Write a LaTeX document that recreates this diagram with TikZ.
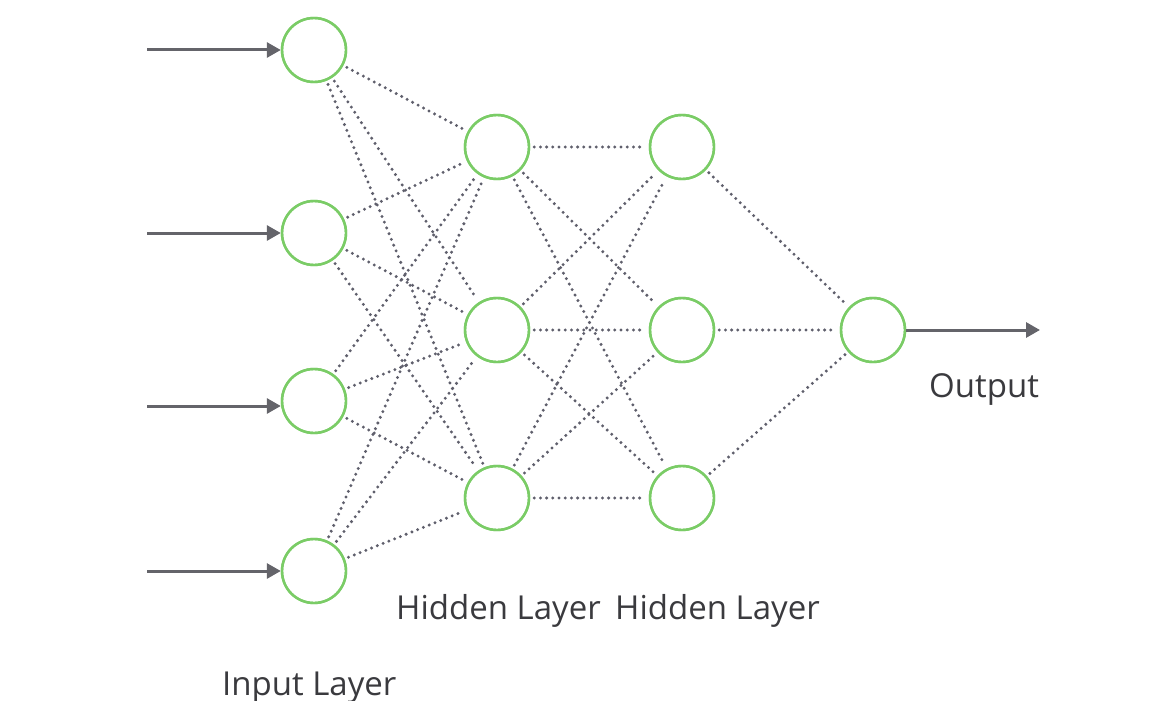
\documentclass[tikz,border=0pt]{standalone}
\usepackage{fontspec}
\setmainfont{Open Sans}
\usetikzlibrary{arrows.meta}
\definecolor{nodegreen}{RGB}{122,204,102}
\definecolor{linkgray}{RGB}{95,95,108}
\definecolor{arrowgray}{RGB}{100,100,106}
\definecolor{labelgray}{RGB}{58,58,62}
\tikzset{
  neuron/.style={circle,draw=nodegreen,line width=2.4pt,minimum size=64pt,inner sep=0pt,fill=white},
  link/.style={draw=linkgray,line width=3.3pt,line cap=round,dash pattern=on 0pt off 6.2pt,shorten <=4pt,shorten >=4pt},
  feed/.style={draw=arrowgray,line width=3pt,-{Triangle[length=14pt,width=15pt]}},
  caption/.style={anchor=base west,inner sep=0pt,text=labelgray,font=\fontsize{33}{36}\selectfont}
}
\begin{document}
\begin{tikzpicture}[x=1pt,y=-1pt]
\useasboundingbox (0,0) rectangle (1165,701);

% input layer
\node[neuron] (i1) at (314,50) {};
\node[neuron] (i2) at (314,233) {};
\node[neuron] (i3) at (314,401) {};
\node[neuron] (i4) at (314,571) {};
% first hidden layer
\node[neuron] (a1) at (497,147) {};
\node[neuron] (a2) at (497,330) {};
\node[neuron] (a3) at (497,498) {};
% second hidden layer
\node[neuron] (b1) at (682,147) {};
\node[neuron] (b2) at (682,330) {};
\node[neuron] (b3) at (682,498) {};
% output neuron
\node[neuron] (o) at (873,330) {};

% weighted connections
\foreach \s in {i1,i2,i3,i4}
  \foreach \t in {a1,a2,a3}
    \path[link] (\s) -- (\t);
\foreach \s in {a1,a2,a3}
  \foreach \t in {b1,b2,b3}
    \path[link] (\s) -- (\t);
\foreach \s in {b1,b2,b3}
  \path[link] (\s) -- (o);

% redraw neurons on top of the links
\foreach \n in {i1,i2,i3,i4,a1,a2,a3,b1,b2,b3,o}
  \draw[draw=nodegreen,line width=2.4pt] (\n) circle (32pt);

% inputs and output
\coordinate (x1) at (147,50);
\coordinate (x2) at (147,233);
\coordinate (x3) at (147,406);
\coordinate (x4) at (147,571);
\coordinate (y) at (1040,330);
\draw[feed] (x1) -- (i1.west);
\draw[feed] (x2) -- (i2.west);
\draw[feed] (x3) -- (i3.west |- x3);
\draw[feed] (x4) -- (i4.west);
\draw[feed] (o.east) -- (y);

% layer captions
\node[caption] (lout) at (929,397) {Output};
\node[caption] (lh1) at (396,619) {Hidden Layer};
\node[caption] (lh2) at (615,619) {Hidden Layer};
\node[caption] (lin) at (222,695) {Input Layer};
\end{tikzpicture}
\end{document}
